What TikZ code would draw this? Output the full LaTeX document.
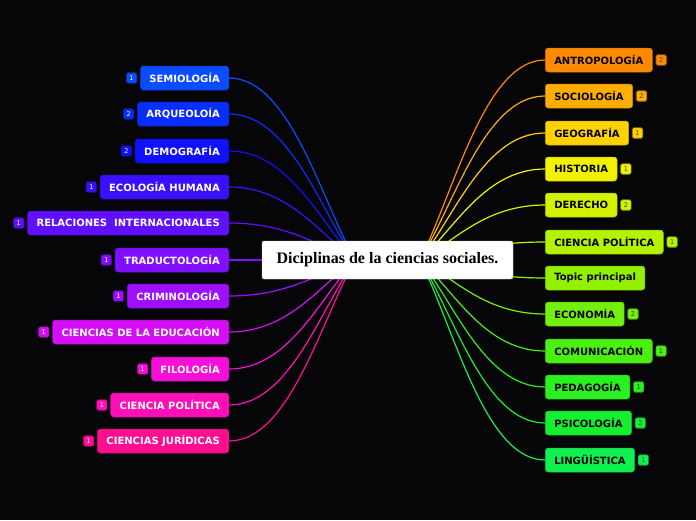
\documentclass[tikz,border=0pt]{standalone}
\usepackage{fontspec}
\setmainfont{Liberation Serif}
\newfontfamily\topicfont{DejaVu Sans}
\usetikzlibrary{positioning,calc}
\definecolor{bgdark}{HTML}{060608}
% left branches, blue to pink
\definecolor{l1}{HTML}{0A4CFF}
\definecolor{l2}{HTML}{0A2DFF}
\definecolor{l3}{HTML}{1010FF}
\definecolor{l4}{HTML}{3B0FFF}
\definecolor{l5}{HTML}{600FFF}
\definecolor{l6}{HTML}{800FFF}
\definecolor{l7}{HTML}{9F0FFF}
\definecolor{l8}{HTML}{D50FF5}
\definecolor{l9}{HTML}{F50FD8}
\definecolor{l10}{HTML}{FF0FB8}
\definecolor{l11}{HTML}{FF0F90}
% right branches, orange to green
\definecolor{r1}{HTML}{FF8A00}
\definecolor{r2}{HTML}{FFAE00}
\definecolor{r3}{HTML}{FFD200}
\definecolor{r4}{HTML}{F2F200}
\definecolor{r5}{HTML}{D4F200}
\definecolor{r6}{HTML}{B4F200}
\definecolor{r7}{HTML}{92F000}
\definecolor{r8}{HTML}{74F010}
\definecolor{r9}{HTML}{4AF010}
\definecolor{r10}{HTML}{2AF020}
\definecolor{r11}{HTML}{14F030}
\definecolor{r12}{HTML}{10F050}
\tikzset{
  topic/.style={
    rounded corners=3pt,draw=#1!80!black,fill=#1,
    line width=.5pt,minimum height=24pt,inner xsep=9pt,
    font=\topicfont\bfseries\fontsize{10}{12}\selectfont
  },
  ltopic/.style={topic=#1,text=white,anchor=east},
  rtopic/.style={topic=#1,text=black,anchor=west},
  badge/.style={
    rounded corners=1.5pt,draw=#1!55!black,fill=#1,
    line width=.6pt,minimum size=10.5pt,inner sep=0pt,
    font=\topicfont\fontsize{6.5}{7}\selectfont
  },
  lbadge/.style={badge=#1,text=white},
  rbadge/.style={badge=#1,text=black!75},
  central/.style={
    rounded corners=2pt,draw=gray!50,fill=white,
    minimum width=251pt,minimum height=38pt,
    font=\bfseries\fontsize{16}{19}\selectfont
  },
  link/.style={draw=#1,line width=1.2pt}
}
\begin{document}
\begin{tikzpicture}[x=1pt,y=-1pt]
\fill[bgdark] (0,0) rectangle (696,520);
\useasboundingbox (0,0) rectangle (696,520);

\coordinate (lhub) at (355,260);
\coordinate (rhub) at (420,260);

% left side
\foreach \nm/\txt/\y/\cnt [count=\i] in {
  semio/SEMIOLOGÍA/78/1,
  arqueo/ARQUEOLOÍA/114/2,
  demog/DEMOGRAFÍA/151/2,
  ecolog/ECOLOGÍA HUMANA/187/1,
  relac/RELACIONES~ INTERNACIONALES/223/1,
  traduc/TRADUCTOLOGÍA/260/1,
  crimin/CRIMINOLOGÍA/296/1,
  educ/CIENCIAS DE LA EDUCACIÓN/332/1,
  filol/FILOLOGÍA/369/1,
  lpolit/CIENCIA POLÍTICA/405/1,
  jurid/CIENCIAS JURÍDICAS/441/1}
{
  \node[ltopic=l\i] (\nm) at (229,\y) {\txt};
  \node[lbadge=l\i,left=3pt of \nm] (\nm-n) {\cnt};
  \draw[link=l\i] (\nm.east) .. controls +(60,0) and +(-35,{(\y-260)*0.35}) .. (lhub);
}

% right side
\foreach \nm/\txt/\y/\cnt [count=\i] in {
  antrop/ANTROPOLOGÍA/60/2,
  sociol/SOCIOLOGÍA/96/2,
  geogr/GEOGRAFÍA/133/1,
  histor/HISTORIA/169/1,
  derech/DERECHO/205/2,
  rpolit/CIENCIA POLÍTICA/242/1,
  topic/Topic principal/278/0,
  econom/ECONOMÍA/314/2,
  comunic/COMUNICACIÓN/351/1,
  pedag/PEDAGOGÍA/387/1,
  psicol/PSICOLOGÍA/423/2,
  lingu/LINGÜÍSTICA/460/1}
{
  \node[rtopic=r\i] (\nm) at (545,\y) {\txt};
  \ifnum\cnt>0
    \node[rbadge=r\i,right=3pt of \nm] (\nm-n) {\cnt};
  \fi
  \draw[link=r\i] (\nm.west) .. controls +(-60,0) and +(35,{(\y-260)*0.35}) .. (rhub);
}

\node[central] (main) at (387.5,260) {Diciplinas de la ciencias sociales.};
\end{tikzpicture}
\end{document}
